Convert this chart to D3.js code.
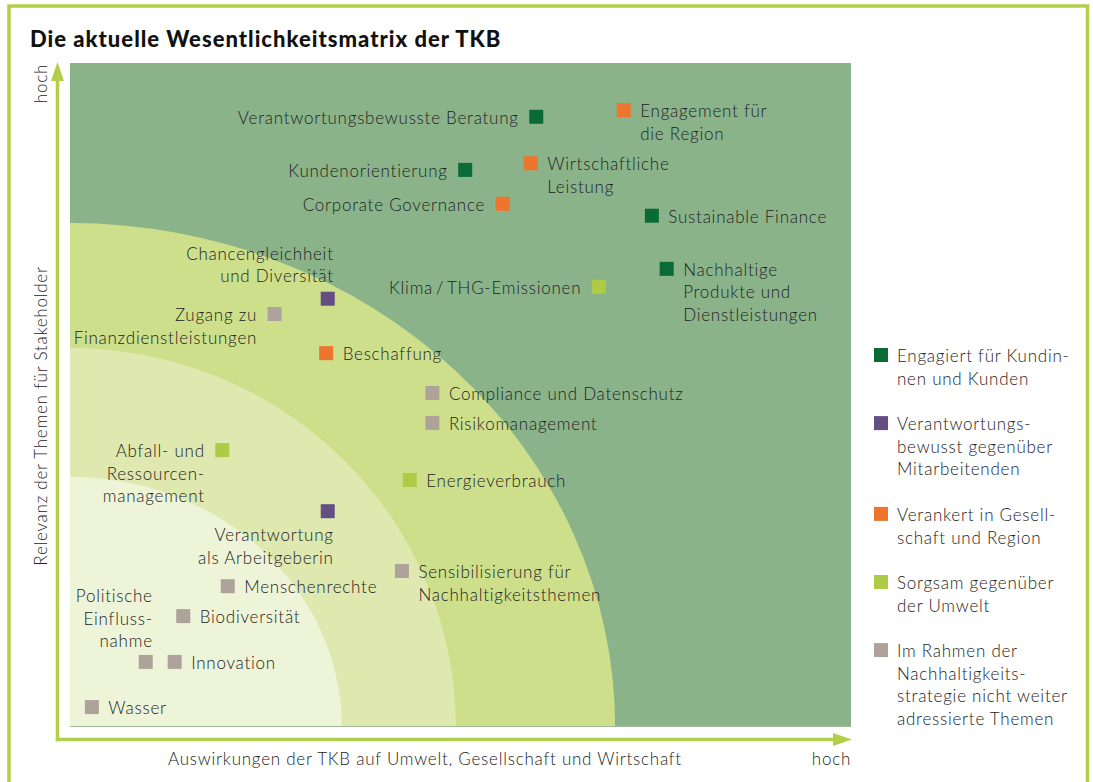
<!DOCTYPE html>
<html>
<head>
<meta charset="utf-8">
<script src="https://cdn.jsdelivr.net/npm/d3@7"></script>
<style>
  html, body { margin: 0; padding: 0; background: #ffffff; }
  svg { display: block; }
  text { font-family: Lato, "Open Sans", sans-serif; }
</style>
</head>
<body>
<svg id="chart" width="1093" height="782"></svg>
<script>
// ---------------- data ----------------
const title = "Die aktuelle Wesentlichkeitsmatrix der TKB";
const xAxisLabel = "Auswirkungen der TKB auf Umwelt, Gesellschaft und Wirtschaft";
const yAxisLabel = "Relevanz der Themen für Stakeholder";
const highLabel = "hoch";

const categories = ["kunden", "mitarbeitende", "gesellschaft", "umwelt", "andere"];
const categoryLabels = [
  ["Engagiert für Kundin-", "nen und Kunden"],
  ["Verantwortungs-", "bewusst gegenüber", "Mitarbeitenden"],
  ["Verankert in Gesell-", "schaft und Region"],
  ["Sorgsam gegenüber", "der Umwelt"],
  ["Im Rahmen der", "Nachhaltigkeits-", "strategie nicht weiter", "adressierte Themen"]
];

const topicNames = [
  ["Verantwortungsbewusste Beratung"],
  ["Engagement für", "die Region"],
  ["Kundenorientierung"],
  ["Wirtschaftliche", "Leistung"],
  ["Corporate Governance"],
  ["Sustainable Finance"],
  ["Chancengleichheit", "und Diversität"],
  ["Klima\u2009/\u2009THG-Emissionen"],
  ["Nachhaltige", "Produkte und", "Dienstleistungen"],
  ["Zugang zu", "Finanzdienstleistungen"],
  ["Beschaffung"],
  ["Compliance und Datenschutz"],
  ["Risikomanagement"],
  ["Abfall- und", "Ressourcen-", "management"],
  ["Energieverbrauch"],
  ["Verantwortung", "als Arbeitgeberin"],
  ["Sensibilisierung für", "Nachhaltigkeitsthemen"],
  ["Menschenrechte"],
  ["Biodiversität"],
  ["Politische", "Einfluss-", "nahme"],
  ["Innovation"],
  ["Wasser"]
];
// impact (x) and stakeholder relevance (y), 0..100
const topicImpact    = [59.7, 70.9, 50.6, 59.0, 55.4, 74.5, 33.0, 67.7, 76.4, 26.2, 32.8, 46.4, 46.4, 19.5, 43.5, 33.0, 42.5, 20.2, 14.5, 9.7, 13.4, 2.8];
const topicRelevance = [91.9, 92.9, 83.9, 84.9, 78.8, 77.0, 64.5, 66.3, 69.0, 62.2, 56.3, 50.3, 45.8, 41.7, 37.2, 32.5, 23.5, 21.2, 16.7, 9.8, 9.8, 3.0];
const topicCategory  = [0, 2, 0, 2, 2, 0, 1, 3, 0, 4, 2, 4, 4, 3, 3, 1, 4, 4, 4, 4, 4, 4];

// relevance zones (quarter ellipses from the origin), in data units
const zoneRadiusX = [69.8, 49.4, 34.8];
const zoneRadiusY = [75.9, 57.1, 37.7];

// ---------------- styles / layout ----------------
const categoryColors = ["#0b6b37", "#654f82", "#ee752e", "#aecb46", "#aea39b"];
const zoneColors = ["#cddf8b", "#dfe8ae", "#eef4d8"];
const plotBg = "#8ab38a";
const frameColor = "#b3cf4a";
const textColor = "#232323";

// label placement per topic: anchor, dx, dy (relative to marker centre)
const labelAnchor = ["end","start","end","start","end","start","end","end","start","end","start","start","start","end","start","end","start","start","start","end","start","start"];
const labelDx     = [-17.5,16.5,-17.5,16.5,-17.5,16.5, 6,-17.5,16.5,-17.5,16.5,16.5,16.5,-17.5,16.5, 6,16.5,16.5,16.5, 7,16.5,16.5];
const labelDy     = [1, 1, 1, 1, 1, 1, -45, 1, 1, 1, 1, 1, 1, 1, 1, 24, 1, 1, 1, -66, 1, 1];

const W = 1093, H = 782;
const plot = { left: 70, right: 851, top: 63, bottom: 727 };
const fontSize = 17;
const fontWeight = 300;
const letterSp = 0.75;
const lineH = 22.7;
const markerSize = 14;

const svg = d3.select("#chart");

const x = d3.scaleLinear().domain([0, 100]).range([plot.left, plot.right]);
const y = d3.scaleLinear().domain([0, 100]).range([plot.bottom, plot.top]);

// outer frame (left, top, right)
svg.append("path")
  .attr("d", `M9,${H} L9,6 L1087.5,6 L1087.5,${H}`)
  .attr("fill", "none")
  .attr("stroke", frameColor)
  .attr("stroke-width", 3.5);

// title
svg.append("text")
  .attr("x", 30).attr("y", 47)
  .attr("font-size", 22)
  .attr("font-weight", 900)
  .attr("letter-spacing", 1.0)
  .attr("fill", "#111")
  .text(title);

// plot background + zones
const defs = svg.append("defs");
defs.append("clipPath").attr("id", "plotClip")
  .append("rect")
  .attr("x", plot.left).attr("y", plot.top)
  .attr("width", plot.right - plot.left).attr("height", plot.bottom - plot.top);

const g = svg.append("g").attr("clip-path", "url(#plotClip)");
g.append("rect")
  .attr("x", plot.left).attr("y", plot.top)
  .attr("width", plot.right - plot.left).attr("height", plot.bottom - plot.top)
  .attr("fill", plotBg);

g.selectAll("ellipse.zone")
  .data(zoneRadiusX.map((rx, i) => ({ rx, ry: zoneRadiusY[i], c: zoneColors[i] })))
  .join("ellipse")
  .attr("class", "zone")
  .attr("cx", x(0)).attr("cy", y(0))
  .attr("rx", d => x(d.rx) - x(0))
  .attr("ry", d => y(0) - y(d.ry))
  .attr("fill", d => d.c);

g.append("line")
  .attr("x1", plot.left).attr("x2", plot.right)
  .attr("y1", plot.bottom - 0.5).attr("y2", plot.bottom - 0.5)
  .attr("stroke", "#9fbb98").attr("stroke-width", 1);

// axes arrows
const axisY0 = 739.5, axisX0 = 57.5;
svg.append("path")
  .attr("d", `M${axisX0 - 1.75},${axisY0} L${plot.right - 16},${axisY0}`)
  .attr("stroke", frameColor).attr("stroke-width", 3.5).attr("fill", "none");
svg.append("path")
  .attr("d", `M${plot.right - 18},${axisY0 - 6.5} L${plot.right + 1},${axisY0} L${plot.right - 18},${axisY0 + 6.5} Z`)
  .attr("fill", frameColor);
svg.append("path")
  .attr("d", `M${axisX0},${axisY0 + 1.75} L${axisX0},${plot.top + 16}`)
  .attr("stroke", frameColor).attr("stroke-width", 3.5).attr("fill", "none");
svg.append("path")
  .attr("d", `M${axisX0 - 6.5},${plot.top + 18} L${axisX0},${plot.top - 1} L${axisX0 + 6.5},${plot.top + 18} Z`)
  .attr("fill", frameColor);

// axis labels
function styleText(sel) {
  return sel.attr("font-size", fontSize)
    .attr("font-weight", fontWeight)
    .attr("letter-spacing", letterSp)
    .attr("fill", textColor);
}
svg.append("text")
  .attr("x", 425).attr("y", 759).attr("dy", "0.35em")
  .attr("text-anchor", "middle")
  .call(styleText)
  .text(xAxisLabel);
svg.append("text")
  .attr("x", plot.right).attr("y", 759).attr("dy", "0.35em")
  .attr("text-anchor", "end")
  .call(styleText)
  .text(highLabel);
svg.append("text")
  .attr("transform", `translate(41,416) rotate(-90)`)
  .attr("dy", "0.35em")
  .attr("text-anchor", "middle")
  .call(styleText)
  .text(yAxisLabel);
svg.append("text")
  .attr("transform", `translate(41,${plot.top + 1}) rotate(-90)`)
  .attr("dy", "0.35em")
  .attr("text-anchor", "end")
  .call(styleText)
  .text(highLabel);

// topics
const topics = topicNames.map((lines, i) => ({
  lines, x: topicImpact[i], y: topicRelevance[i], cat: topicCategory[i],
  anchor: labelAnchor[i], dx: labelDx[i], dy: labelDy[i]
}));

const tg = svg.append("g");
tg.selectAll("rect.marker")
  .data(topics)
  .join("rect")
  .attr("class", "marker")
  .attr("x", d => x(d.x) - markerSize / 2)
  .attr("y", d => y(d.y) - markerSize / 2)
  .attr("width", markerSize).attr("height", markerSize)
  .attr("fill", d => categoryColors[d.cat]);

const labels = tg.selectAll("text.label")
  .data(topics)
  .join("text")
  .attr("class", "label")
  .call(styleText)
  .attr("text-anchor", d => d.anchor);
labels.selectAll("tspan")
  .data(d => d.lines.map((l, k) => ({ l, k, d })))
  .join("tspan")
  .attr("x", t => x(t.d.x) + t.d.dx)
  .attr("y", t => y(t.d.y) + t.d.dy + t.k * lineH)
  .attr("dy", "0.35em")
  .text(t => t.l);

// legend
const legX = 881, legY0 = 355;
let acc = legY0;
const legendItems = categories.map((c, i) => {
  const item = { c, i, y: acc, lines: categoryLabels[i] };
  acc += (categoryLabels[i].length + 1) * lineH;
  return item;
});
const lg = svg.append("g");
lg.selectAll("rect")
  .data(legendItems)
  .join("rect")
  .attr("x", legX - markerSize / 2)
  .attr("y", d => d.y - markerSize / 2)
  .attr("width", markerSize).attr("height", markerSize)
  .attr("fill", d => categoryColors[d.i]);
const lt = lg.selectAll("text")
  .data(legendItems)
  .join("text")
  .call(styleText);
lt.selectAll("tspan")
  .data(d => d.lines.map((l, k) => ({ l, k, d })))
  .join("tspan")
  .attr("x", 897)
  .attr("y", t => t.d.y + 1 + t.k * lineH)
  .attr("dy", "0.35em")
  .text(t => t.l);
</script>
</body>
</html>
